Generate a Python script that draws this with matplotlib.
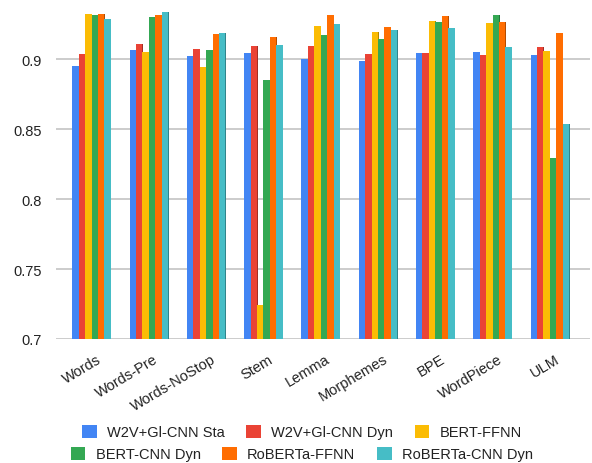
import matplotlib
matplotlib.use("Agg")
import matplotlib.pyplot as plt
import numpy as np
from matplotlib.patches import Patch
from matplotlib.colors import to_rgb

plt.rcParams['font.family'] = ['Liberation Sans', 'DejaVu Sans']

categories = ["Words", "Words-Pre", "Words-NoStop", "Stem", "Lemma",
              "Morphemes", "BPE", "WordPiece", "ULM"]

series_names = ["W2V+Gl-CNN Sta", "W2V+Gl-CNN Dyn", "BERT-FFNN",
                "BERT-CNN Dyn", "RoBERTa-FFNN", "RoBERTa-CNN Dyn"]

w2v_sta = [0.895, 0.9067, 0.9024, 0.9045, 0.8998, 0.8988, 0.9041, 0.9048, 0.9031]
w2v_dyn = [0.904, 0.9105, 0.907, 0.9093, 0.9096, 0.9034, 0.9041, 0.9031, 0.9084]
bert_ffnn = [0.9325, 0.9048, 0.8943, 0.7245, 0.9235, 0.9191, 0.927, 0.9256, 0.9057]
bert_cnn = [0.9316, 0.930, 0.9062, 0.8854, 0.9175, 0.9146, 0.9263, 0.9316, 0.8295]
roberta_ffnn = [0.9325, 0.9316, 0.918, 0.9155, 0.9316, 0.9227, 0.9306, 0.9263, 0.9184]
roberta_cnn = [0.929, 0.9335, 0.919, 0.910, 0.9253, 0.9208, 0.9225, 0.9084, 0.8539]

yticks = [0.7, 0.75, 0.8, 0.85, 0.9]
ytick_labels = ["0.7", "0.75", "0.8", "0.85", "0.9"]

colors = ["#4285F4", "#EA4335", "#FBBC04", "#34A853", "#FF6D01", "#46BDC6"]
all_series = [w2v_sta, w2v_dyn, bert_ffnn, bert_cnn, roberta_ffnn, roberta_cnn]


def darker(c, f=0.7):
    r, g, b = to_rgb(c)
    return (r * f, g * f, b * f)


fig = plt.figure(figsize=(5.92, 4.64), dpi=100)
ax = fig.add_axes([56 / 592, 124 / 464, (590 - 56) / 592, 340 / 464])

x = np.arange(len(categories))
bw = 0.112
edge = 0.018
base = 0.7
for i, (vals, col) in enumerate(zip(all_series, colors)):
    offs = (i - 2.5) * bw
    heights = np.array(vals) - base
    # thin shaded strip on the right side of each bar
    ax.bar(x + offs + bw / 2, heights, width=edge,
           bottom=base, color=darker(col), edgecolor='none', zorder=2.9)
    ax.bar(x + offs, heights, width=bw, bottom=base, color=col,
           edgecolor='none', zorder=3)

ax.set_xlim(-0.62, 8.70)
ax.set_ylim(0.7, 0.943)
ax.set_yticks(yticks)
ax.set_yticklabels(ytick_labels, fontsize=10.5, color="#222222")
ax.yaxis.grid(True, color="#cccccc", linewidth=1.4, zorder=0)
ax.set_axisbelow(True)
ax.tick_params(axis='y', length=0, pad=10)
ax.tick_params(axis='x', length=0, pad=9)
ax.set_xticks(x + 0.08)
ax.set_xticklabels(categories, rotation=31, ha='right', rotation_mode='anchor',
                   fontsize=10.5, color="#222222")
for s in ax.spines.values():
    s.set_visible(False)

handles = [Patch(facecolor=c, edgecolor='none') for c in colors]
leg_kw = dict(frameon=False, fontsize=10.5, handlelength=1.0, handleheight=1.0,
              handletextpad=0.7, columnspacing=1.5, ncol=3, borderaxespad=0,
              loc='center')
leg1 = fig.legend(handles[:3], series_names[:3],
                  bbox_to_anchor=(0.51, 1 - 433 / 464), **leg_kw)
leg2 = fig.legend(handles[3:], series_names[3:],
                  bbox_to_anchor=(0.51, 1 - 455 / 464), **leg_kw)
for lg in (leg1, leg2):
    for t in lg.get_texts():
        t.set_color("#222222")

fig.savefig("out.png", dpi=100)
